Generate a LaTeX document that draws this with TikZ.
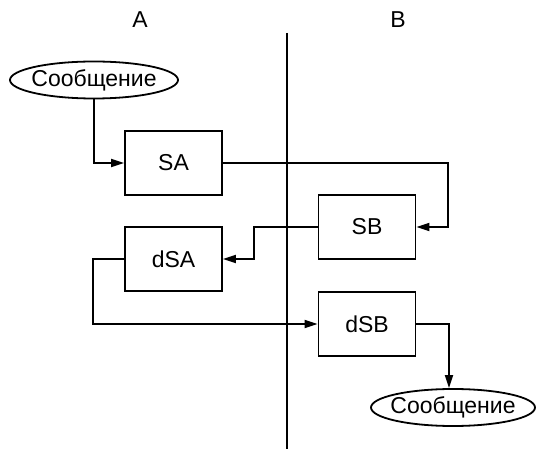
\documentclass[tikz,border=0pt]{standalone}
\usepackage{fontspec}
\setmainfont{Liberation Sans}
\usetikzlibrary{arrows.meta,shapes.geometric}
\begin{document}
\begin{tikzpicture}[x=1pt,y=-1pt,
  line width=1.8pt,
  txt/.style={font=\fontsize{23}{26}\selectfont},
  box/.style={draw, txt, minimum width=97pt, minimum height=64pt, inner sep=0pt},
  msg/.style={draw, txt, ellipse, minimum width=168pt, minimum height=37pt, inner xsep=-6pt, inner ysep=0pt},
  conn/.style={-{Triangle[length=13pt,width=8pt]}, line width=1.8pt}
]
\useasboundingbox (0,0) rectangle (536,449);
\coordinate (vt) at (287,33);
\coordinate (vb) at (287,449);
\draw (vt) -- (vb);
\node[txt] (A) at (140,20) {A};
\node[txt] (B) at (398,20) {B};
\node[msg] (m1) at (94,80) {Сообщение};
\node[box] (sa) at (173.5,163) {SA};
\node[box] (sb) at (367,227) {SB};
\node[box] (dsa) at (173.5,259) {dSA};
\node[box] (dsb) at (367,324) {dSB};
\node[msg, minimum width=164pt] (m2) at (453,407.5) {Сообщение};
\coordinate (c1) at (448,0);
\coordinate (c2) at (254,0);
\coordinate (c3) at (93,0);
\coordinate (c4) at (449,0);
\draw[conn] (m1.south) |- (sa.west);
\draw[conn] (sa.east) -- (sa.east -| c1) -- (sb.east -| c1) -- (sb.east);
\draw[conn] (sb.west) -- (sb.west -| c2) -- (dsa.east -| c2) -- (dsa.east);
\draw[conn] (dsa.west) -- (dsa.west -| c3) -- (dsb.west -| c3) -- (dsb.west);
\draw[conn] (dsb.east) -- (dsb.east -| c4) -- (m2.north -| c4);
\end{tikzpicture}
\end{document}
